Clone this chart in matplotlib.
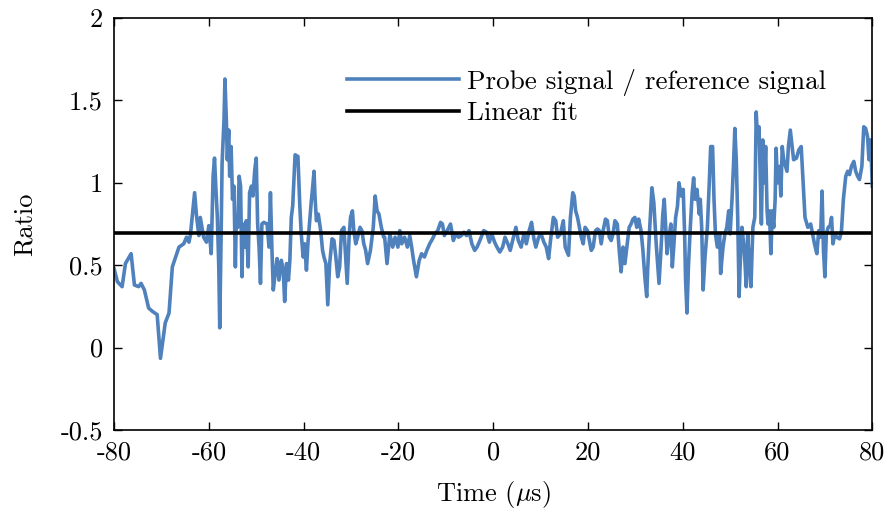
import matplotlib
matplotlib.use("Agg")
import matplotlib.pyplot as plt

plt.rcParams['font.family'] = 'serif'
plt.rcParams['font.serif'] = ['cmr10']
plt.rcParams['mathtext.fontset'] = 'cm'
plt.rcParams['axes.unicode_minus'] = False
plt.rcParams['axes.formatter.use_mathtext'] = False

# time in microseconds, ratio
time_us = [
    -80.0, -79.3, -78.3, -77.6, -76.4, -75.7, -74.8, -74.3, -73.6, -72.7,
    -71.9, -70.9, -70.2, -69.2, -68.4, -67.7, -67.0, -66.3, -65.3, -64.7,
    -64.2, -63.9, -63.0, -62.6, -62.1,
    -61.8, -61.1, -60.5, -60.0, -59.5, -59.1, -58.8, -58.5, -58.2, -57.9,
    -57.7, -57.4, -57.2, -56.8, -56.6, -56.3, -56.1, -55.8, -55.6, -55.3,
    -55.0, -54.7, -54.4, -54.2, -53.9, -53.6, -53.3, -53.0, -52.8, -52.4,
    -52.1, -51.7, -51.4, -51.0, -50.7, -50.3, -50.0, -49.7, -49.4, -49.1,
    -48.8, -48.4, -47.7, -47.3, -47.0, -46.7, -46.4, -46.0, -45.6, -45.2,
    -44.7, -44.3, -44.0, -43.6, -43.2, -42.9, -42.6, -42.3,
    -41.8, -41.2, -40.8, -40.5, -40.1, -39.8, -39.4, -39.1, -38.7, -38.4,
    -38.1, -37.8, -37.6, -37.3, -36.9, -36.4, -36.0, -35.7, -35.3, -34.9,
    -34.5, -34.0, -33.6, -33.2, -32.8, -32.4, -32.0, -31.5, -31.1, -30.8,
    -30.4, -30.1, -29.7, -29.4, -29.0, -28.6, -28.1, -27.7, -27.3, -26.9,
    -26.5, -25.9, -25.3, -24.9, -24.5, -24.1, -23.6, -23.1,
    -22.9, -22.4, -21.8, -21.2, -20.7, -20.1, -19.7, -19.3, -18.7, -18.1,
    -17.6, -17.2, -16.8, -16.2, -15.6, -15.1, -14.5, -14.0, -13.4, -12.8,
    -12.3, -11.7, -11.1, -10.7, -10.3, -9.7, -9.0, -8.4, -7.9, -7.3,
    -6.7, -6.2, -5.6, -5.1, -4.5, -3.9, -3.4, -2.8,
    -2.0, -1.4, -0.8, -0.3, 0.3, 0.8, 1.4, 2.0, 2.5, 3.1,
    3.6, 4.2, 4.8, 5.3, 5.9, 6.5, 7.0, 7.6, 8.1, 8.6,
    9.0, 9.6, 10.1, 10.7, 11.2, 11.7, 12.1, 12.7, 13.2, 13.6,
    14.2, 14.8, 15.2,
    15.9, 16.3, 16.8, 17.1, 17.4, 17.8, 18.2, 18.6, 19.0, 19.4,
    19.9, 20.3, 20.7, 21.1, 21.6, 22.0, 22.4, 22.8, 23.2, 23.7,
    24.1, 24.5, 24.9, 25.3, 25.7, 26.2, 26.6, 27.0, 27.4, 27.8,
    28.3, 28.7, 29.1, 29.5, 29.9, 30.3, 30.7, 31.2, 31.6, 32.0,
    32.4, 32.6, 33.0, 33.5, 33.9,
    34.4, 35.0, 35.4, 35.8, 36.1, 36.4, 36.7, 37.0, 37.5, 37.8,
    38.1, 38.5, 38.9, 39.2, 39.7, 40.1, 40.4, 40.6, 40.9, 41.2,
    41.6, 42.0, 42.3, 42.6, 43.0, 43.5, 43.7, 44.0, 44.3, 44.7,
    45.2, 45.6, 45.9, 46.3, 46.6, 46.9, 47.3, 47.8, 48.0, 48.5,
    48.9, 49.3, 49.7, 50.0, 50.4, 50.7, 51.0, 51.3, 51.6, 51.9,
    52.1, 52.5, 53.0, 53.4, 53.7, 54.1, 54.4, 54.8, 55.2,
    55.5, 55.8, 56.1, 56.3, 56.6, 56.9, 57.2, 57.5, 57.8, 58.0,
    58.3, 58.6, 58.9, 59.2, 59.5, 59.7, 60.0, 60.4, 60.7, 61.0,
    61.3, 61.7, 62.0, 62.3, 62.7, 63.1, 63.4, 64.0, 64.5, 65.0,
    65.4, 65.8, 66.4, 67.0, 67.4, 67.8, 68.3, 68.7, 69.1, 69.4,
    69.7, 70.0, 70.3, 70.7, 71.1, 71.4, 71.7, 72.1, 72.5, 73.1,
    73.5, 73.9, 74.4, 74.8, 75.2, 75.6, 76.1, 76.5, 76.9, 77.3,
    77.8, 78.2, 78.6, 79.0, 79.3, 79.6, 79.8, 80.0,
]
ratio = [
    0.48, 0.40, 0.37, 0.51, 0.57, 0.38, 0.37, 0.39, 0.35, 0.24,
    0.22, 0.20, -0.065, 0.15, 0.21, 0.49, 0.55, 0.61, 0.63, 0.67,
    0.64, 0.68, 0.94, 0.80, 0.68,
    0.79, 0.67, 0.64, 0.74, 0.57, 1.04, 1.15, 0.96, 0.79, 0.49,
    0.12, 0.69, 1.12, 1.38, 1.63, 1.38, 1.14, 1.32, 1.04, 1.22,
    0.90, 0.98, 0.49, 0.79, 0.73, 1.04, 0.98, 0.43, 0.75, 0.61,
    0.77, 0.49, 0.94, 0.98, 0.92, 1.08, 1.15, 0.75, 0.61, 0.39,
    0.75, 0.76, 0.75, 0.61, 0.94, 0.61, 0.35, 0.45, 0.54, 0.41,
    0.53, 0.47, 0.28, 0.51, 0.41, 0.53, 0.79, 0.86,
    1.17, 1.16, 0.86, 0.69, 0.55, 0.63, 0.47, 0.63, 0.77, 0.88,
    0.97, 1.07, 0.92, 0.77, 0.81, 0.71, 0.59, 0.55, 0.51, 0.26,
    0.51, 0.66, 0.65, 0.55, 0.43, 0.49, 0.71, 0.73, 0.53, 0.39,
    0.67, 0.79, 0.83, 0.71, 0.63, 0.67, 0.73, 0.71, 0.63, 0.59,
    0.51, 0.59, 0.73, 0.92, 0.83, 0.81, 0.73, 0.67,
    0.67, 0.51, 0.69, 0.61, 0.67, 0.61, 0.71, 0.63, 0.67, 0.61,
    0.68, 0.61, 0.53, 0.43, 0.53, 0.57, 0.55, 0.59, 0.63, 0.66,
    0.69, 0.71, 0.76, 0.75, 0.68, 0.71, 0.75, 0.65, 0.69, 0.67,
    0.68, 0.70, 0.68, 0.71, 0.63, 0.59, 0.61, 0.65,
    0.71, 0.70, 0.64, 0.69, 0.64, 0.61, 0.58, 0.61, 0.67, 0.63,
    0.59, 0.66, 0.73, 0.65, 0.61, 0.69, 0.63, 0.71, 0.76, 0.66,
    0.61, 0.67, 0.69, 0.64, 0.61, 0.54, 0.65, 0.79, 0.77, 0.67,
    0.69, 0.77, 0.61,
    0.56, 0.79, 0.94, 0.92, 0.83, 0.79, 0.73, 0.67, 0.63, 0.73,
    0.71, 0.65, 0.59, 0.61, 0.71, 0.72, 0.71, 0.63, 0.71, 0.78,
    0.77, 0.67, 0.65, 0.69, 0.77, 0.75, 0.59, 0.46, 0.61, 0.51,
    0.63, 0.73, 0.75, 0.78, 0.79, 0.73, 0.78, 0.71, 0.59, 0.43,
    0.31, 0.47, 0.71, 0.97, 0.88,
    0.63, 0.39, 0.59, 0.81, 0.90, 0.73, 0.57, 0.65, 0.75, 0.49,
    0.61, 0.79, 0.86, 1.00, 0.92, 0.96, 0.69, 0.41, 0.21, 0.49,
    0.73, 0.94, 1.03, 0.90, 0.96, 0.81, 0.90, 0.73, 0.35, 0.55,
    0.73, 1.00, 1.22, 1.22, 0.90, 0.69, 0.61, 0.69, 0.45, 0.61,
    0.69, 0.73, 0.83, 0.69, 0.90, 1.10, 1.33, 1.14, 0.79, 0.31,
    0.49, 0.73, 0.59, 0.37, 0.69, 0.49, 0.37, 0.73, 0.79,
    1.43, 1.26, 1.34, 1.10, 0.75, 1.26, 1.00, 1.22, 0.83, 0.75,
    0.83, 0.57, 0.83, 0.73, 0.90, 1.21, 1.00, 1.10, 0.92, 1.22,
    1.14, 1.10, 1.07, 1.22, 1.32, 1.22, 1.14, 1.15, 1.20, 1.22,
    1.00, 0.79, 0.73, 0.75, 0.69, 0.63, 0.57, 0.71, 0.67, 0.95,
    0.59, 0.43, 0.69, 0.73, 0.74, 0.79, 0.63, 0.69, 0.67, 0.66,
    0.71, 0.90, 1.04, 1.07, 1.05, 1.10, 1.13, 1.07, 1.04, 1.02,
    1.10, 1.34, 1.33, 1.28, 1.14, 1.26, 1.14, 0.98,
]

fit_x = [-80, 80]
fit_y = [0.695, 0.695]

fig = plt.figure(figsize=(8.91, 5.15), dpi=100)
ax = fig.add_axes([0.128, 0.165, 0.851, 0.800])

ax.plot(time_us, ratio, color='#4f81bd', linewidth=2.6,
        label='Probe signal / reference signal')
ax.plot(fit_x, fit_y, color='black', linewidth=2.6, label='Linear fit')

ax.set_xlim(-80, 80)
ax.set_ylim(-0.5, 2)
ax.set_xticks([-80, -60, -40, -20, 0, 20, 40, 60, 80])
ax.set_yticks([-0.5, 0, 0.5, 1, 1.5, 2])
ax.set_yticklabels(['-0.5', '0', '0.5', '1', '1.5', '2'])
ax.tick_params(direction='in', top=True, right=True, length=6,
               width=1, labelsize=19, pad=8)
for s in ax.spines.values():
    s.set_linewidth(1.2)

ax.set_xlabel(r'Time ($\mu$s)', fontsize=19, labelpad=10)
ax.set_ylabel('Ratio', fontsize=19, labelpad=17)

ax.legend(loc='upper left', bbox_to_anchor=(0.29, 0.91), frameon=False,
          fontsize=19.5, handlelength=4.1, handletextpad=0.3,
          borderpad=0, labelspacing=0.2)

fig.savefig('out.png', dpi=100)
